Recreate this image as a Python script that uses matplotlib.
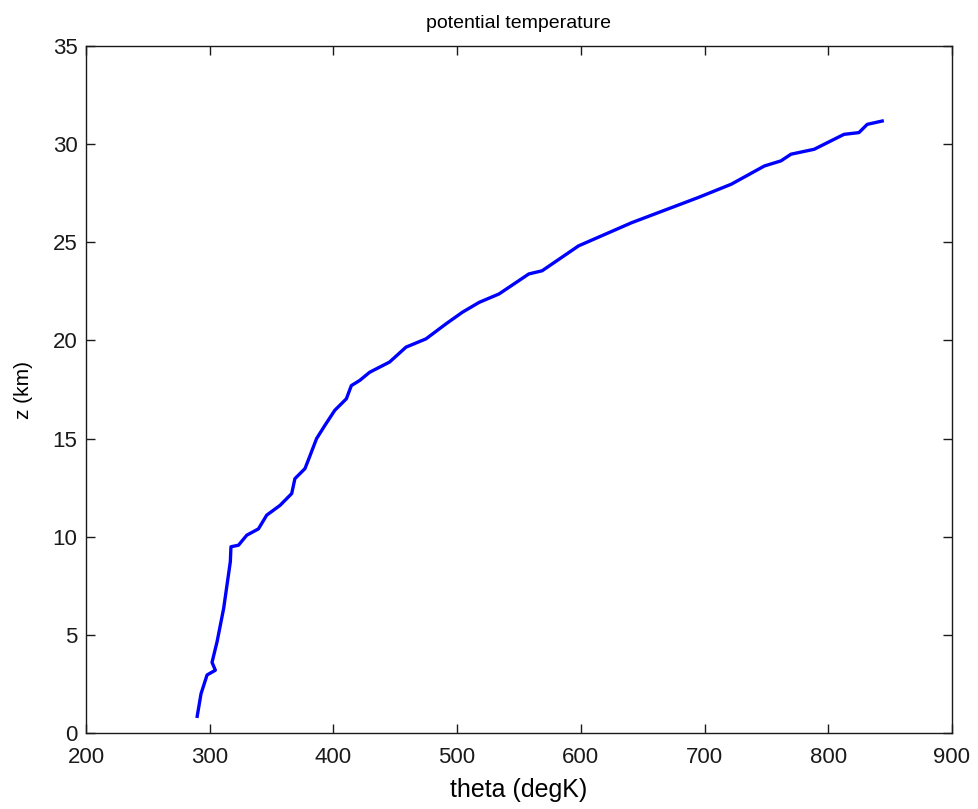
import matplotlib.pyplot as plt
import numpy as np

plt.rcParams['font.family'] = ['Liberation Sans', 'DejaVu Sans']

# potential temperature profile (degK vs km)
theta = [289.9, 293.0, 297.9, 304.6, 301.9, 306.0, 311.3, 314.0, 316.7, 317.2,
         323.3, 330.0, 339.4, 346.1, 356.9, 366.3, 368.9, 377.0, 379.7, 386.4,
         393.1, 401.1, 410.5, 414.5, 421.2, 429.3, 445.4, 458.7, 474.8, 490.9,
         504.3, 517.8, 533.9, 558.0, 568.7, 598.2, 641.1, 694.8, 721.6, 748.4,
         761.8, 769.9, 788.6, 812.7, 824.8, 831.5, 843.6]
z_km = [0.85, 2.0, 2.96, 3.2, 3.6, 4.66, 6.35, 7.54, 8.73, 9.49,
        9.57, 10.08, 10.4, 11.1, 11.6, 12.2, 12.96, 13.47, 13.9, 15.0,
        15.67, 16.44, 17.03, 17.7, 17.96, 18.38, 18.9, 19.66, 20.08, 20.84,
        21.44, 21.94, 22.37, 23.39, 23.55, 24.82, 26.0, 27.28, 27.96, 28.89,
        29.15, 29.49, 29.74, 30.5, 30.59, 31.01, 31.18]

fig = plt.figure(figsize=(9.79, 8.09), dpi=100)
ax = fig.add_axes([0.0878, 0.0939, 0.8846, 0.8492])

ax.plot(theta, z_km, color='#0000ff', linewidth=2.4)

ax.set_xlim(200, 900)
ax.set_ylim(0, 35)
ax.set_xticks(np.arange(200, 901, 100))
ax.set_yticks(np.arange(0, 36, 5))
ax.tick_params(direction='in', top=True, right=True, labelsize=16,
               length=6.5, width=1, colors='#1a1a1a')
ax.tick_params(axis='y', pad=6)
ax.tick_params(axis='x', pad=10)
for s in ax.spines.values():
    s.set_linewidth(1.0)
    s.set_color('#1a1a1a')

ax.set_xlabel('theta (degK)', fontsize=18)
ax.set_ylabel('z (km)', fontsize=15)
ax.xaxis.set_label_coords(0.5, -0.066)
ax.yaxis.set_label_coords(-0.061, 0.5)
ax.set_title('potential temperature', fontsize=14, pad=13)

fig.savefig('out.png', dpi=100)
